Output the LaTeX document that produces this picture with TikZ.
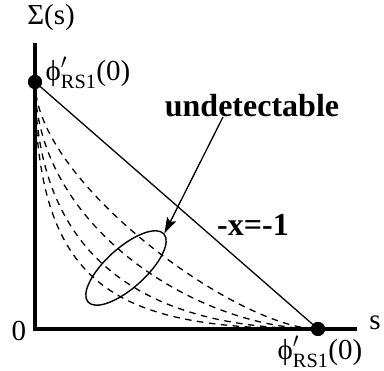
\documentclass[tikz,border=0pt]{standalone}
\usepackage{amsmath}
\usepackage{fontspec}
\setmainfont{Liberation Serif}
\usepackage{tikz}
\usetikzlibrary{shapes.geometric, positioning, arrows.meta}

\begin{document}
\begin{tikzpicture}[
        x=1pt, y=1pt,
        font=\fontsize{29}{32}\selectfont,
        axis/.style={line width=3.8pt, line join=miter},
        dot/.style={circle, fill, inner sep=0pt, minimum size=14pt},
        bound/.style={line width=1.3pt},
        family/.style={line width=1.3pt, dash pattern=on 6.5pt off 5.5pt},
        blob/.style={ellipse, draw, line width=1.4pt, inner sep=0pt, minimum width=102pt, minimum height=40pt},
        lbl/.style={inner sep=0pt},
        boldlbl/.style={inner sep=0pt, font=\fontsize{32}{36}\selectfont\bfseries},
        arrow/.style={-{Stealth[length=16pt, width=10pt, inset=3pt]}, line width=1.3pt}
    ]
    \useasboundingbox (0,0) rectangle (384,371);
%
    % Nodes
    \coordinate (origin) at (35,42);
    \coordinate (ytop) at (35,328);
    \coordinate (xend) at (357,42);
    \node[dot] (phiA) at (35,289) {};
    \node[dot] (phiB) at (318,42) {};
    \node[lbl] (sigma) at (51,353) {Σ(s)};
    \node[lbl] (zero) at (19,40) {0};
    \node[lbl] (svar) at (375,48) {s};
    \node[lbl, anchor=base] (labA) at (88,290) {$\text{ϕ}'_{\text{RS1}}$(0)};
    \node[lbl, anchor=base] (labB) at (320,11) {$\text{ϕ}'_{\text{RS1}}$(0)};
    \node[boldlbl, anchor=base] (undet) at (252,254) {undetectable};
    \node[boldlbl] (line) at (253,146) {-x=-1};
    \node[blob, rotate=42] (region) at (126,103) {};
%
    % Axes and curves
    \draw[axis] (ytop) -- (origin) -- (xend);
    \draw[bound] (phiA.center) -- (phiB.center);
    \draw[family] (phiA.center) .. controls +(0,-100) and +(-80,0) .. (phiB.center);
    \draw[family] (phiA.center) .. controls +(0,-145) and +(-120,0) .. (phiB.center);
    \draw[family] (phiA.center) .. controls +(0,-175) and +(-175,0) .. (phiB.center);
    \draw[family] (phiA.center) .. controls +(0,-210) and +(-200,0) .. (phiB.center);
    \node[dot] at (phiA) {};
    \node[dot] at (phiB) {};
%
    % Arrows
    \draw[arrow] ([xshift=-29pt]undet.base) -- (region.east);
%
\end{tikzpicture}
\end{document}
